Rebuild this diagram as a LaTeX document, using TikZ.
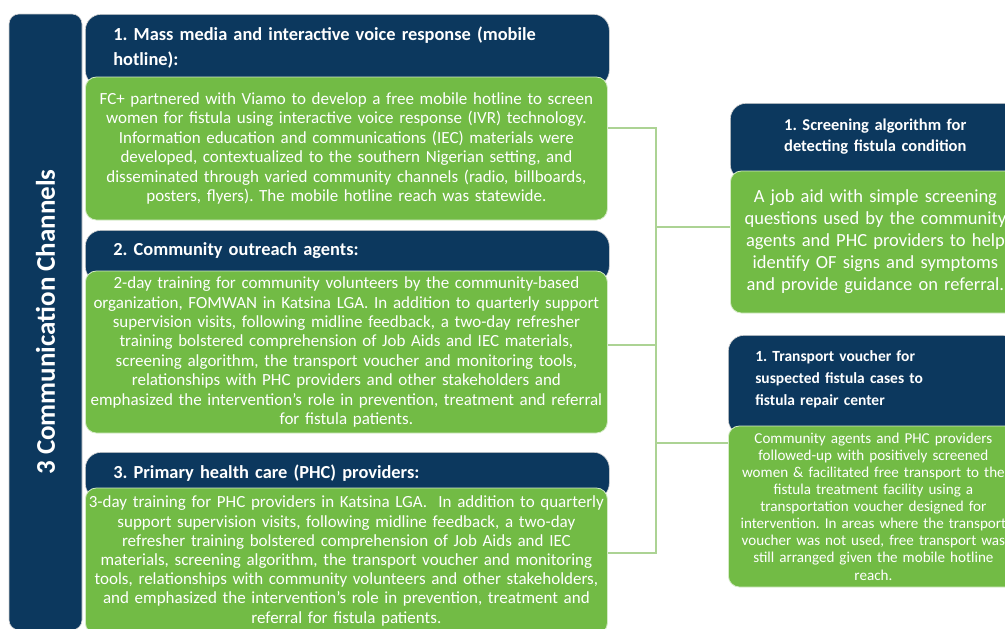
\documentclass[tikz,border=0pt]{standalone}
\usepackage{fontspec}
\setmainfont{Carlito}
\usetikzlibrary{positioning}
\definecolor{navy}{RGB}{12,56,94}
\definecolor{leaf}{RGB}{114,187,69}
\definecolor{stem}{RGB}{172,211,148}
\frenchspacing

\begin{document}
\begin{tikzpicture}[x=1pt,y=1pt]
		\tikzstyle{head}=[fill=navy,draw=gray!35,line width=.6pt,rounded corners=16pt,text=white,anchor=north west,inner ysep=0pt]
		\tikzstyle{body}=[fill=leaf,draw=white!70!leaf,line width=.8pt,rounded corners=11pt,text=white,align=center,inner xsep=2pt,inner ysep=0pt]
		\tikzstyle{link}=[stem,line width=1.6pt]

		\useasboundingbox (0,0) rectangle (1005,-629);

		% side bar
		\node[head,anchor=center,rotate=90,rounded corners=10pt,minimum width=616pt,minimum height=73pt,font=\fontsize{27}{30}\selectfont\bfseries] (bar) at (45.5,-322) {3 Communication Channels};

		% left column
		\node[head,minimum width=524pt,minimum height=72pt,inner xsep=28pt,text width=468pt,align=left,text depth=34pt,font=\fontsize{18.4}{25}\selectfont\bfseries] (h1) at (85,-14) {1. Mass media and interactive voice response (mobile\\hotline):};
		\node[body,below=-10pt of h1.south west,anchor=north west,minimum width=522pt,minimum height=143pt,text width=518pt,font=\fontsize{17}{19.4}\selectfont] (g1) {FC+ partnered with Viamo to develop a free mobile hotline to screen\\women for fistula using interactive voice response (IVR) technology.\\Information education and communications (IEC) materials were\\developed, contextualized to the southern Nigerian setting, and\\disseminated through varied community channels (radio, billboards,\\posters, flyers). The mobile hotline reach was statewide.};

		\node[head,minimum width=524pt,minimum height=52pt,inner xsep=28pt,text width=468pt,align=left,text depth=14pt,font=\fontsize{18.4}{25}\selectfont\bfseries] (h2) at (85,-230) {2. Community outreach agents:};
		\node[body,below=-12pt of h2.south west,anchor=north west,minimum width=522pt,minimum height=162pt,text width=518pt,font=\fontsize{17}{19.4}\selectfont] (g2) {2-day training for community volunteers by the community-based\\organization, FOMWAN in Katsina LGA. In addition to quarterly support\\supervision visits, following midline feedback, a two-day refresher\\training bolstered comprehension of Job Aids and IEC materials,\\screening algorithm, the transport voucher and monitoring tools,\\relationships with PHC providers and other stakeholders and\\emphasized the intervention’s role in prevention, treatment and referral\\for fistula patients.};

		\node[head,minimum width=524pt,minimum height=47pt,inner xsep=28pt,text width=468pt,align=left,text depth=8pt,font=\fontsize{18.4}{25}\selectfont\bfseries] (h3) at (85,-452) {3. Primary health care (PHC) providers:};
		\node[body,below=-12pt of h3.south west,anchor=north west,minimum width=522pt,minimum height=146pt,text width=518pt,font=\fontsize{17}{19.2}\selectfont] (g3) {3-day training for PHC providers in Katsina LGA.\ \ In addition to quarterly\\support supervision visits, following midline feedback, a two-day\\refresher training bolstered comprehension of Job Aids and IEC\\materials, screening algorithm, the transport voucher and monitoring\\tools, relationships with community volunteers and other stakeholders,\\and emphasized the intervention’s role in prevention, treatment and\\referral for fistula patients.};

		% right column
		\node[head,minimum width=290pt,minimum height=77pt,inner xsep=0pt,text width=272pt,align=center,text depth=34pt,font=\fontsize{16.5}{21}\selectfont\bfseries] (h4) at (730,-103) {1. Screening algorithm for\\detecting fistula condition};
		\node[body,below=-10pt of h4.south west,anchor=north west,minimum width=290pt,minimum height=142pt,text width=280pt,font=\fontsize{18.5}{22}\selectfont] (g4) {A job aid with simple screening\\questions used by the community\\agents and PHC providers to help\\identify OF signs and symptoms\\and provide guidance on referral.};

		\node[head,minimum width=290pt,minimum height=100pt,inner xsep=27pt,text width=236pt,align=left,text depth=58pt,font=\fontsize{15.5}{22}\selectfont\bfseries] (h5) at (728,-335) {1. Transport voucher for\\suspected fistula cases to\\fistula repair center};
		\node[body,below=-10pt of h5.south west,anchor=north west,minimum width=290pt,minimum height=161pt,text width=280pt,font=\fontsize{15.1}{17.1}\selectfont] (g5) {Community agents and PHC providers\\followed-up with positively screened\\women \& facilitated free transport to the\\fistula treatment facility using a\\transportation voucher designed for\\intervention. In areas where the transport\\voucher was not used, free transport was\\still arranged given the mobile hotline\\reach.};

		% connectors
		\coordinate (top) at (656,-128);
		\coordinate (bot) at (656,-553);
		\draw[link] (g1.east |- top) -- (top) -- (bot) -- (g3.east |- bot);
		\draw[link] (g2.east |- 0,-345) -- (top |- 0,-345);
		\draw[link] (top |- 0,-227) -- (g4.west |- 0,-227);
		\draw[link] (top |- 0,-443) -- (g5.west |- 0,-443);
	\end{tikzpicture}
\end{document}
